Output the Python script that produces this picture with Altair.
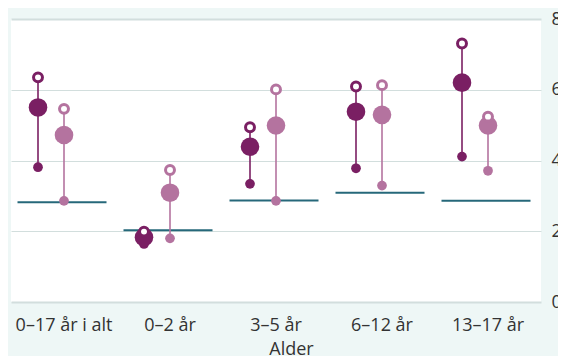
import altair as alt
import pandas as pd

categories = ["0–17 år i alt", "0–2 år", "3–5 år", "6–12 år", "13–17 år"]
dark_value = [55.0, 18.3, 43.9, 53.8, 62.0]
dark_low = [38.1, 16.4, 33.4, 37.8, 41.1]
dark_high = [63.5, 19.9, 49.4, 60.9, 73.1]
light_value = [47.2, 30.9, 49.9, 52.9, 49.9]
light_low = [28.6, 18.0, 28.6, 32.9, 37.1]
light_high = [54.6, 37.3, 60.1, 61.3, 52.4]
reference = [28.2, 20.3, 28.7, 30.9, 28.6]

df = pd.DataFrame({
    "Alder": categories,
    "dark_value": dark_value, "dark_low": dark_low, "dark_high": dark_high,
    "light_value": light_value, "light_low": light_low, "light_high": light_high,
    "reference": reference,
})

DARK = "#7a1f63"
LIGHT = "#b4739f"
TEAL = "#26687a"
FONT = "Open Sans"
TXT = "#333333"

x_enc = alt.X(
    "Alder:N", sort=categories,
    scale=alt.Scale(paddingInner=0, paddingOuter=0),
    axis=alt.Axis(
        title="Alder", labelAngle=0, domain=False, ticks=False, grid=False,
        labelPadding=14, labelFont=FONT, labelFontSize=18, labelColor=TXT,
        titleFont=FONT, titleFontSize=18, titleFontWeight="normal", titleColor=TXT,
        titleX=280, titleY=38, titleAlign="center", titleBaseline="top",
    ),
)

def y_enc(field):
    return alt.Y(
        f"{field}:Q",
        scale=alt.Scale(domain=[0, 80], nice=False),
        axis=alt.Axis(
            orient="right", values=[0, 20, 40, 60, 80], title=None,
            domain=False, ticks=False, labelPadding=10,
            labelFont=FONT, labelFontSize=18, labelColor=TXT,
            gridColor="#d2dedd",
            gridWidth=alt.expr("datum.value == 0 || datum.value == 80 ? 2 : 1"),
        ),
    )

base = alt.Chart(df)

teal = base.mark_tick(color=TEAL, size=89, thickness=2, xOffset=-2, opacity=1).encode(
    x=x_enc, y=y_enc("reference"))

dark_rule = base.mark_rule(color=DARK, strokeWidth=2, opacity=0.8, xOffset=-26).encode(
    x=x_enc, y=y_enc("dark_low"), y2="dark_high:Q")
light_rule = base.mark_rule(color=LIGHT, strokeWidth=2, opacity=0.8, xOffset=0).encode(
    x=x_enc, y=y_enc("light_low"), y2="light_high:Q")

dark_small = base.mark_circle(color=DARK, size=95, opacity=1, xOffset=-26).encode(
    x=x_enc, y=y_enc("dark_low"))
light_small = base.mark_circle(color=LIGHT, size=95, opacity=1, xOffset=0).encode(
    x=x_enc, y=y_enc("light_low"))

dark_big = base.mark_circle(color=DARK, size=346, opacity=1, xOffset=-26).encode(
    x=x_enc, y=y_enc("dark_value"))
light_big = base.mark_circle(color=LIGHT, size=346, opacity=1, xOffset=0).encode(
    x=x_enc, y=y_enc("light_value"))

dark_ring = base.mark_circle(fill="white", fillOpacity=1, stroke=DARK, strokeWidth=3,
                             size=80, opacity=1, xOffset=-26).encode(
    x=x_enc, y=y_enc("dark_high"))
light_ring = base.mark_circle(fill="white", fillOpacity=1, stroke=LIGHT, strokeWidth=3,
                              size=80, opacity=1, xOffset=0).encode(
    x=x_enc, y=y_enc("light_high"))

chart = alt.layer(
    teal, dark_rule, light_rule, dark_small, light_small,
    dark_big, light_big, dark_ring, light_ring,
).properties(
    width=530, height=283,
    padding={"left": 3, "top": 11, "right": 17, "bottom": 54},
    autosize=alt.AutoSizeParams(type="none"),
    background="#eef7f6",
).configure_view(fill="white", strokeWidth=0)

chart.save("out.html", embed_options={"renderer": "svg", "actions": False})
